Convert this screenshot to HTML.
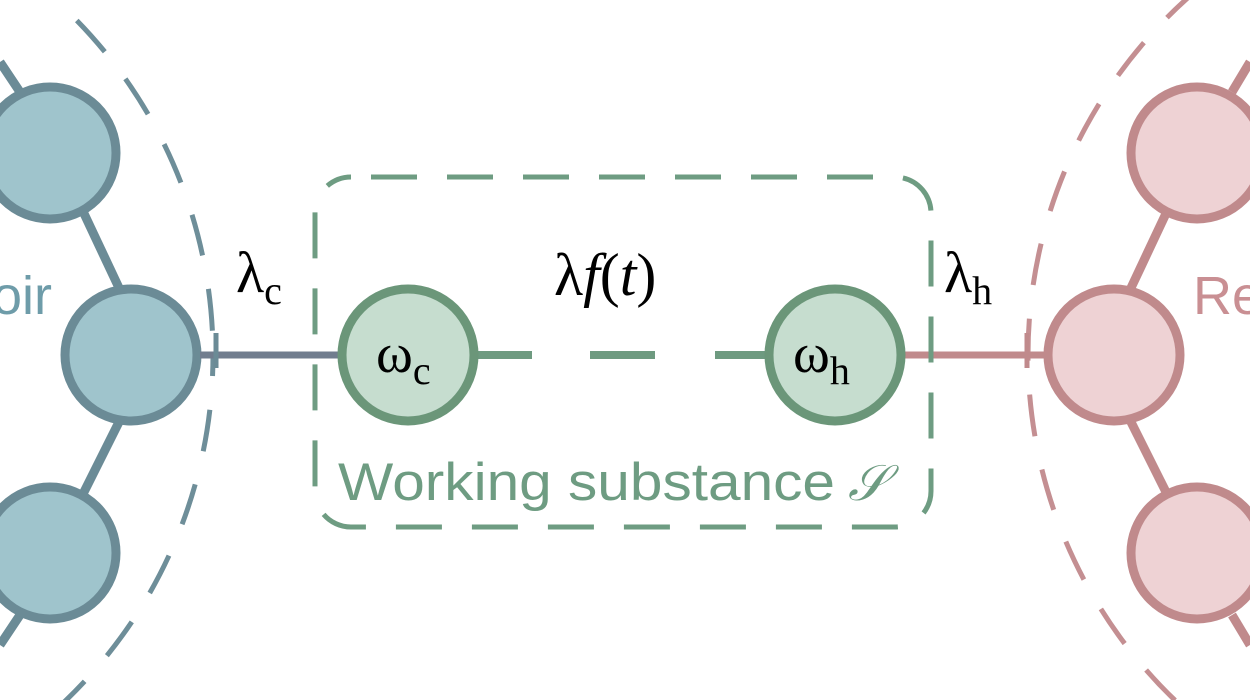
<!DOCTYPE html>
<html><head><meta charset="utf-8"><style>
html,body{margin:0;padding:0;background:#fff;overflow:hidden;width:1250px;height:700px;}
svg{display:block;overflow:hidden;}
.sans{font-family:"Liberation Sans",sans-serif;}
.serif{font-family:"Liberation Serif",serif;}
</style></head><body>
<svg width="1250" height="700" viewBox="0 0 1250 700" xmlns="http://www.w3.org/2000/svg">
<!-- left reservoir -->
<circle cx="-266" cy="355" r="479" fill="none" stroke="#6e8e99" stroke-width="5" stroke-dasharray="42 34" stroke-dashoffset="21"/>
<g stroke="#6b8b96" stroke-width="9">
<line x1="0" y1="62" x2="20" y2="92"/>
<line x1="0" y1="645" x2="20" y2="615"/>
<line x1="80" y1="205" x2="120" y2="290"/>
<line x1="80" y1="500" x2="120" y2="420"/>
</g>
<g fill="#9fc4cc" stroke="#6b8b96" stroke-width="9">
<circle cx="50" cy="153" r="66"/>
<circle cx="50" cy="553" r="66"/>
<circle cx="131" cy="355" r="66"/>
</g>
<line x1="200" y1="355" x2="340" y2="355" stroke="#717d8e" stroke-width="7"/>
<line x1="216" y1="333" x2="216" y2="368" stroke="#6b8b96" stroke-width="5"/>
<text x="52" y="314" text-anchor="end" class="sans" font-size="54" fill="#6e9ca9">Reservoir</text>

<!-- right reservoir -->
<circle cx="1507" cy="355" r="479" fill="none" stroke="#c48f92" stroke-width="5" stroke-dasharray="42 34" stroke-dashoffset="21"/>
<g stroke="#c08a8c" stroke-width="9">
<line x1="1250" y1="62" x2="1232" y2="92"/>
<line x1="1250" y1="645" x2="1232" y2="615"/>
<line x1="1170" y1="205" x2="1130" y2="290"/>
<line x1="1170" y1="500" x2="1130" y2="420"/>
</g>
<g fill="#eed2d4" stroke="#c08a8c" stroke-width="9">
<circle cx="1197" cy="153" r="66"/>
<circle cx="1197" cy="553" r="66"/>
<circle cx="1114" cy="355" r="66"/>
</g>
<line x1="900" y1="355" x2="1046" y2="355" stroke="#c08a8c" stroke-width="7"/>
<line x1="1027" y1="333" x2="1027" y2="368" stroke="#c08a8c" stroke-width="5"/>
<text x="1193" y="314" class="sans" font-size="54" fill="#c98f93">Reservoir</text>

<!-- working substance box -->
<rect x="315" y="177" width="616" height="350" rx="36" ry="36" fill="none" stroke="#6e9c82" stroke-width="5" stroke-dasharray="46 30" stroke-dashoffset="-20"/>
<g stroke="#6e9a80" stroke-width="8">
<line x1="476" y1="355" x2="532" y2="355"/>
<line x1="590" y1="355" x2="655" y2="355"/>
<line x1="715" y1="355" x2="768" y2="355"/>
</g>
<g fill="#c6ddcf" stroke="#6b9679" stroke-width="9">
<circle cx="408" cy="355" r="66"/>
<circle cx="835" cy="355" r="66"/>
</g>
<text x="376" y="372" class="serif" font-size="56" fill="#000">ω<tspan font-size="40" dy="12">c</tspan></text>
<text x="793" y="372" class="serif" font-size="56" fill="#000">ω<tspan font-size="40" dy="12">h</tspan></text>
<text x="236" y="292" class="serif" font-size="58" fill="#000">λ<tspan font-size="40" dy="12">c</tspan></text>
<text x="944" y="292" class="serif" font-size="58" fill="#000">λ<tspan font-size="40" dy="12">h</tspan></text>
<text x="554" y="295" class="serif" font-size="60" fill="#000">λ<tspan font-style="italic">f</tspan>(<tspan font-style="italic">t</tspan>)</text>
<text x="338" y="500" class="sans" font-size="53" fill="#6e9c82" textLength="497" lengthAdjust="spacingAndGlyphs">Working substance</text>
<text x="848" y="500" class="serif" font-size="50" font-style="italic" fill="#6e9c82">𝒮</text>
</svg>
</body></html>
